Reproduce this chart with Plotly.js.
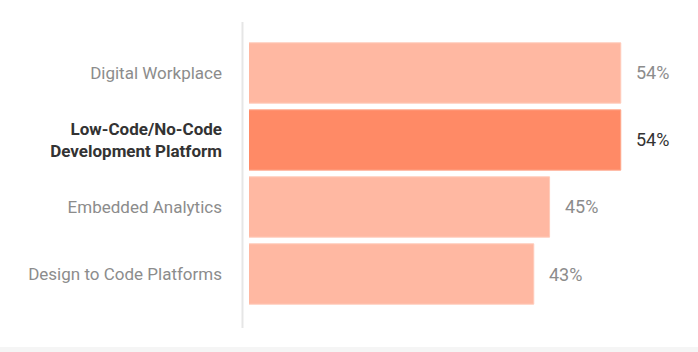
<!DOCTYPE html>
<html>
<head>
<meta charset="utf-8">
<script src="https://cdn.plot.ly/plotly-3.0.1.min.js"></script>
<style>
html,body{margin:0;padding:0;background:#fff;}
#chart{width:698px;height:352px;}
</style>
</head>
<body>
<div id="chart"></div>
<script>
var categories = ["Digital Workplace", "Low-Code/No-Code Development Platform", "Embedded Analytics", "Design to Code Platforms"];
var tickLabels = ["Digital Workplace", "<b>Low-Code/No-Code<br>Development Platform</b>", "Embedded Analytics", "Design to Code Platforms"];
var values = [54, 54, 45, 43];
var valueLabels = ["54%", "54%", "45%", "43%"];
var highlighted = [false, true, false, false];

var lightColor = "#FFB8A2";
var darkColor = "#FF8A66";

var trace = {
  type: "bar",
  orientation: "h",
  y: categories,
  x: values,
  marker: {
    color: highlighted.map(function(h){return h ? darkColor : lightColor;}),
    line: {color: highlighted.map(function(h){return h ? "#ffa88c" : "#ffcbba";}), width: 1}
  },
  hoverinfo: "none"
};

var annotations = categories.map(function(c, i){
  return {
    x: values[i], y: c, xref: "x", yref: "y",
    text: valueLabels[i], showarrow: false,
    xanchor: "left", yanchor: "middle", xshift: 13,
    font: {family: "Roboto, sans-serif", size: 18, color: highlighted[i] ? "#333333" : "#8c8c8c"}
  };
});

var layout = {
  width: 698, height: 352,
  margin: {l: 249, r: 8, t: 23, b: 24},
  paper_bgcolor: "#ffffff",
  plot_bgcolor: "#ffffff",
  showlegend: false,
  bargap: 0.1,
  font: {family: "Roboto, sans-serif"},
  xaxis: {range: [7, 62.75], visible: false, fixedrange: true},
  yaxis: {
    type: "category",
    categoryarray: categories,
    range: [3.806, -0.746],
    tickmode: "array",
    tickvals: categories,
    ticktext: tickLabels,
    ticks: "",
    showgrid: false,
    zeroline: false,
    showline: false,
    ticklabelstandoff: 26,
    tickfont: {family: "Roboto, sans-serif", size: 17, color: "#8c8c8c"}
  },
  annotations: annotations,
  shapes: [
    {type: "line", xref: "paper", yref: "paper", x0: -0.0148, x1: -0.0148, y0: 0, y1: 1.003,
     line: {color: "#e6e6e6", width: 2}},
    {type: "rect", xref: "paper", yref: "paper", x0: -1, x1: 2, y0: -0.0623, y1: -0.2,
     fillcolor: "#f5f5f5", line: {width: 0}, layer: "below"}
  ]
};

Plotly.newPlot("chart", [trace], layout, {displayModeBar: false, staticPlot: true}).then(function(){
  var ticks = document.querySelectorAll(".ytick text");
  ticks.forEach(function(t, i){
    if (highlighted[i]) t.style.fill = "#333333";
  });
});
</script>
</body>
</html>
